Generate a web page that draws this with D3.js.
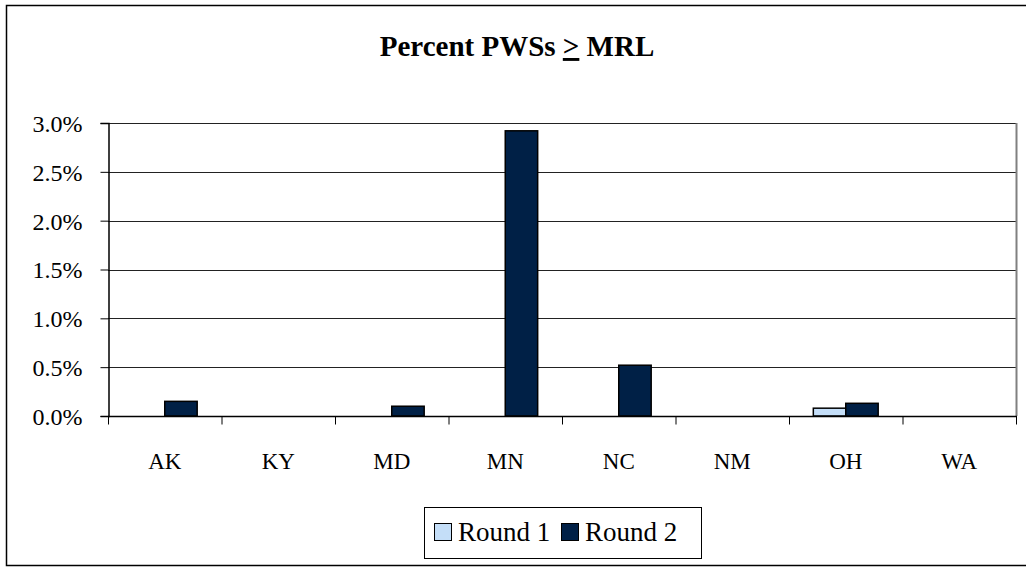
<!DOCTYPE html>
<html>
<head>
<meta charset="utf-8">
<style>
    body { margin: 0; background: #fff; }
    svg text { font-family: "Liberation Serif", "Times New Roman", serif; fill: #000; }
    svg .title { font-size: 29px; font-weight: bold; }
    svg .tick-label { font-size: 24px; }
    svg .xlabel { font-size: 23px; }
    svg .legend-label { font-size: 27px; }
</style>
</head>
<body>
<svg id="chart" width="1026" height="567"></svg>
<script src="https://d3js.org/d3.v7.min.js"></script>
<script>
    var states = ["AK", "KY", "MD", "MN", "NC", "NM", "OH", "WA"];
    var seriesNames = ["Round 1", "Round 2"];
    var round1 = [0, 0, 0, 0, 0, 0, 0.08, 0];
    var round2 = [0.15, 0, 0.10, 2.92, 0.52, 0, 0.13, 0];
    var yTicks = [0, 0.5, 1.0, 1.5, 2.0, 2.5, 3.0];
    var colors = ["#c4def8", "#002046"];

    var svg = d3.select("#chart");

    var plot = {left: 108, right: 1016, top: 123, bottom: 416};

    // outer chart border
    svg.append("rect")
        .attr("x", 6.5).attr("y", 5.5)
        .attr("width", 1030).attr("height", 560)
        .attr("fill", "#fff")
        .attr("stroke", "#000").attr("stroke-width", 1.5);

    var x = d3.scaleBand()
        .domain(states)
        .range([plot.left, plot.right])
        .paddingInner(0).paddingOuter(0);

    var xs = d3.scaleBand()
        .domain(seriesNames)
        .range([0, x.bandwidth()])
        .paddingInner(0).paddingOuter(0.75);

    var y = d3.scaleLinear()
        .domain([0, 3])
        .range([plot.bottom, plot.top]);

    // gridlines
    svg.append("g")
        .selectAll("line")
        .data(yTicks.filter(function (d) { return d > 0; }))
        .enter().append("line")
        .attr("x1", plot.left).attr("x2", plot.right)
        .attr("y1", function (d) { return Math.round(y(d)) + 0.5; })
        .attr("y2", function (d) { return Math.round(y(d)) + 0.5; })
        .attr("stroke", "#222").attr("stroke-width", 1);

    // right border of plot area
    svg.append("line")
        .attr("x1", plot.right + 0.5).attr("x2", plot.right + 0.5)
        .attr("y1", plot.top).attr("y2", plot.bottom)
        .attr("stroke", "#808080").attr("stroke-width", 2);

    // bars
    var rows = [];
    states.forEach(function (s, i) {
        rows.push({state: s, series: seriesNames[0], value: round1[i], color: colors[0]});
        rows.push({state: s, series: seriesNames[1], value: round2[i], color: colors[1]});
    });

    svg.append("g")
        .selectAll("rect")
        .data(rows.filter(function (d) { return d.value > 0; }))
        .enter().append("rect")
        .attr("x", function (d) { return x(d.state) + xs(d.series); })
        .attr("width", xs.bandwidth())
        .attr("y", function (d) { return y(d.value); })
        .attr("height", function (d) { return y(0) - y(d.value); })
        .attr("fill", function (d) { return d.color; })
        .attr("stroke", "#000").attr("stroke-width", 1.5);

    // y axis
    var yAxis = d3.axisLeft(y)
        .tickValues(yTicks)
        .tickSize(8)
        .tickPadding(18)
        .tickFormat(function (d) { return d.toFixed(1) + "%"; });

    var gy = svg.append("g")
        .attr("transform", "translate(" + (plot.left + 0.5) + ",0)")
        .call(yAxis)
        .attr("font-family", null).attr("font-size", null);
    gy.select(".domain").attr("stroke", "#000").attr("stroke-width", 1.5);
    gy.selectAll(".tick line").attr("stroke", "#000");
    gy.selectAll(".tick text")
        .attr("class", "tick-label")
        .attr("fill", "#000")
        .attr("dy", "0.35em");

    // x axis: baseline with ticks at category boundaries
    var gx = svg.append("g")
        .attr("transform", "translate(0," + (plot.bottom + 0.5) + ")");
    gx.append("line")
        .attr("x1", plot.left).attr("x2", plot.right + 1)
        .attr("stroke", "#000").attr("stroke-width", 1.5);
    gx.selectAll(".xtick")
        .data(states.concat(["end"]))
        .enter().append("line")
        .attr("class", "xtick")
        .attr("x1", function (d, i) { return i < states.length ? x(d) + 0.5 : plot.right + 0.5; })
        .attr("x2", function (d, i) { return i < states.length ? x(d) + 0.5 : plot.right + 0.5; })
        .attr("y1", 0).attr("y2", 8)
        .attr("stroke", "#000");
    gx.selectAll(".xlabel")
        .data(states)
        .enter().append("text")
        .attr("class", "xlabel")
        .attr("x", function (d) { return x(d) + x.bandwidth() / 2; })
        .attr("y", 52)
        .attr("text-anchor", "middle")
        .text(function (d) { return d; });

    // title
    var title = svg.append("text")
        .attr("class", "title")
        .attr("x", 517).attr("y", 56)
        .attr("text-anchor", "middle");
    title.append("tspan").text("Percent PWSs ");
    title.append("tspan").attr("text-decoration", "underline").text(">");
    title.append("tspan").text(" MRL");

    // legend
    var legend = svg.append("g").attr("transform", "translate(424,507)");
    legend.append("rect")
        .attr("x", 0.5).attr("y", 0.5)
        .attr("width", 277).attr("height", 51)
        .attr("fill", "#fff").attr("stroke", "#000").attr("stroke-width", 1);
    var item = legend.selectAll(".item")
        .data(seriesNames)
        .enter().append("g")
        .attr("class", "item")
        .attr("transform", function (d, i) { return "translate(" + (10 + i * 127) + ",0)"; });
    item.append("rect")
        .attr("x", 0.5).attr("y", 16.5)
        .attr("width", 17).attr("height", 17)
        .attr("fill", function (d, i) { return colors[i]; })
        .attr("stroke", "#000").attr("stroke-width", 1);
    item.append("text")
        .attr("class", "legend-label")
        .attr("x", 24).attr("y", 34)
        .text(function (d) { return d; });
</script>
</body>
</html>
